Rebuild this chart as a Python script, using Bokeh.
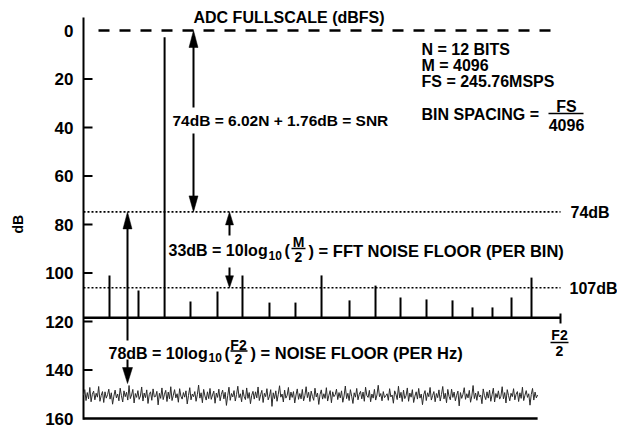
from bokeh.plotting import figure
from bokeh.models import Range1d, FixedTicker, Label
from bokeh.embed import file_html
from bokeh.resources import INLINE
import numpy as np

# ---------------- data ----------------
fullscale_db = 0.0          # ADC full scale
snr_line_db = 74.8          # "74dB" dotted line
bin_line_db = 106.1         # "107dB" dotted line
spur_base_db = 118.5        # spectrum baseline
nyquist = 100.0             # F2/2 in % of Nyquist
signal_freq = 17.0
signal_db = 2.8
spur_freq = [5.45, 11.53, 22.43, 28.09, 33.33, 38.99, 44.44, 49.90, 55.77,
             61.22, 66.46, 71.91, 77.36, 81.55, 85.74, 89.73, 93.92]
spur_db = [101.0, 107.2, 111.8, 107.6, 101.0, 112.2, 112.2, 101.0, 111.3,
           105.2, 110.1, 110.9, 111.3, 114.2, 114.2, 110.1, 101.9]
noise_span = 95.2
noise_db = [
    150.4, 148.1, 152.6, 149.3, 151.9, 147.2, 153.1, 150.0, 148.7, 152.3, 149.6, 151.2, 146.8, 152.9, 150.5, 148.9, 153.4, 149.0, 151.6, 150.2,
    147.9, 152.0, 149.4, 154.1, 150.8, 148.3, 151.5, 149.9, 152.7, 147.5, 150.6, 153.2, 148.6, 151.0, 149.2, 152.4, 146.4, 151.8, 150.3, 148.0,
    153.6, 149.7, 151.3, 148.5, 152.1, 150.7, 147.0, 152.8, 149.5, 151.4, 148.2, 153.8, 150.1, 149.0, 152.5, 147.8, 151.1, 150.9, 148.8, 154.4,
    149.6, 151.7, 147.4, 152.2, 150.0, 148.4, 153.0, 149.1, 151.9, 146.9, 152.6, 150.4, 148.1, 151.5, 149.8, 153.3, 147.7, 150.8, 152.0, 149.3,
    151.2, 148.6, 154.0, 150.5, 147.3, 152.3, 149.9, 151.0, 148.9, 152.9, 150.2, 146.2, 151.6, 149.4, 153.5, 148.0, 150.7, 152.4, 149.0, 151.8,
    147.6, 152.1, 150.3, 148.7, 153.7, 149.5, 151.3, 147.9, 152.7, 150.0, 148.3, 151.9, 149.2, 154.6, 150.6, 147.1, 152.5, 149.7, 151.1, 148.5,
    152.8, 150.1, 146.7, 151.4, 149.8, 153.1, 148.2, 150.9, 152.2, 147.4, 151.7, 149.3, 153.9, 150.4, 148.8, 152.0, 149.0, 151.5, 147.0, 152.6,
    150.2, 148.4, 153.4, 149.6, 151.0, 147.7, 152.3, 150.8, 148.1, 155.0, 149.4, 151.8, 148.6, 152.9, 150.0, 146.5, 151.2, 149.9, 153.2, 148.3,
    151.6, 150.5, 147.2, 152.4, 149.1, 151.3, 148.9, 153.6, 150.3, 147.8, 152.1, 149.7, 151.9, 148.0, 152.7, 150.6, 146.9, 151.4, 149.2, 153.0,
    148.7, 150.9, 152.5, 147.5, 151.1, 149.5, 154.2, 150.1, 148.2, 152.0, 149.8, 151.7, 147.3, 152.8, 150.4, 148.5, 153.5, 149.0, 151.0, 150.2,
    147.9, 152.2, 149.3, 151.5, 148.6, 153.3, 150.7, 146.6, 151.8, 149.6, 152.6, 148.1, 150.8, 153.8, 149.4, 151.2, 147.6, 152.3, 150.0, 148.8,
    151.9, 149.1, 152.9, 147.1, 150.5, 151.3, 148.4, 153.1, 149.9, 151.6, 148.0, 152.4, 150.3, 146.3, 151.0, 149.7, 152.7, 148.9, 151.4, 150.6,
    149.8, 152.5, 147.7, 151.1, 150.3, 153.7, 148.6, 150.0, 152.2, 146.7, 151.5, 149.2, 153.0, 148.3, 151.8, 150.6, 147.4, 152.9, 149.5, 151.2,
    148.1, 153.4, 150.8, 149.0, 152.0, 147.6, 151.6, 149.9, 154.3, 150.2, 148.5, 152.6, 149.4, 151.0, 147.2, 152.4, 150.5, 148.9, 153.1, 149.7,
    151.4, 148.2, 152.8, 150.1, 146.8, 151.9, 149.6, 153.5, 148.0, 150.9, 152.3, 147.9, 151.3, 149.1, 152.7, 150.4, 148.7, 154.8, 149.3, 151.7,
    150.0, 147.3, 152.1, 149.8, 151.5, 148.4, 153.3, 150.7, 146.4, 151.8, 149.5, 152.5, 148.8, 151.1, 150.3, 153.9, 147.8, 150.6, 152.2, 149.0,
    151.6, 148.3, 152.9, 150.2, 147.5, 153.2, 149.7, 151.4, 148.6, 152.0, 150.8, 146.9, 151.9, 149.3, 153.6, 148.1, 150.5, 152.7, 149.6, 151.0,
    147.7, 152.3, 150.0, 148.9, 153.0, 149.4, 151.7, 147.1, 152.6, 150.4, 148.5, 151.3, 149.8, 154.5, 150.1, 147.6, 152.4, 149.1, 151.5, 150.3,
]
y_ticks = [0, 20, 40, 60, 80, 100, 120, 140, 160]
y_bottom = 160

# ---------------- layout helpers (page pixels -> data) ----------------
PX_X = 4.77     # px per % of Nyquist
PX_Y = 2.425    # px per dB
def X(px):
    return (px - 83) / PX_X
def Y(py):
    return (py - 30) / PX_Y

FONT = "Liberation Sans"
W, H = 617, 428
FRAME_LEFT = 81

p = figure(width=W, height=H,
           x_range=Range1d(X(FRAME_LEFT), X(W)), y_range=Range1d(Y(H), Y(0)),
           output_backend="svg", toolbar_location=None, x_axis_location=None,
           min_border_left=FRAME_LEFT, min_border_right=0, min_border_top=0, min_border_bottom=0)
p.grid.visible = False
p.outline_line_color = None
p.background_fill_color = "white"

ax = p.yaxis[0]
ax.ticker = FixedTicker(ticks=y_ticks)
ax.axis_line_color = None
ax.major_tick_line_color = None
ax.minor_tick_line_color = None
ax.major_tick_in = 0
ax.major_tick_out = 0
ax.major_label_standoff = 8
ax.major_label_text_font = FONT
ax.major_label_text_font_style = "bold"
ax.major_label_text_font_size = "17px"
ax.major_label_text_color = "black"
ax.axis_label = "dB" + "\u00a0" * 5
ax.axis_label_text_font = FONT
ax.axis_label_text_font_style = "bold"
ax.axis_label_text_font_size = "14px"
ax.axis_label_text_color = "black"
ax.axis_label_standoff = 16

# axis line, ticks, bottom line
p.segment(x0=[0], y0=[Y(17)], x1=[0], y1=[y_bottom + 0.5], line_width=2, color="black")
tk = [t for t in y_ticks if 0 < t < y_bottom]
p.segment(x0=[0] * len(tk), y0=tk, x1=[X(92)] * len(tk), y1=tk, line_width=2, color="black")
p.segment(x0=[0], y0=[y_bottom], x1=[noise_span], y1=[y_bottom], line_width=2.5, color="black")

# noise floor
noise_x = np.linspace(0, noise_span, len(noise_db))
p.line(noise_x, noise_db, line_width=1, color="#2a2a2a")

# reference lines
p.segment(x0=[X(98)], y0=[fullscale_db], x1=[X(550)], y1=[fullscale_db],
          line_width=2.5, line_dash="11 10", color="black")
p.segment(x0=[0, 0], y0=[snr_line_db, bin_line_db], x1=[nyquist, nyquist], y1=[snr_line_db, bin_line_db],
          line_width=1.6, line_dash="2 2", color="black")

# baseline and spurs
p.segment(x0=[0], y0=[spur_base_db], x1=[nyquist], y1=[spur_base_db], line_width=2.5, color="black")
p.segment(x0=[nyquist], y0=[Y(313)], x1=[nyquist], y1=[Y(323)], line_width=2, color="black")
p.segment(x0=spur_freq, y0=[spur_base_db] * len(spur_freq), x1=spur_freq, y1=spur_db,
          line_width=2, color="black")
p.segment(x0=[signal_freq], y0=[spur_base_db], x1=[signal_freq], y1=[signal_db],
          line_width=2, color="black")

# arrows
hx, hy = [], []
def arrow(px, y_from, y_tip, L, Wd):
    x = X(px)
    d = 1 if y_tip > y_from else -1   # +1: pointing down
    base = y_tip - d * L / PX_Y
    p.segment(x0=[x], y0=[y_from], x1=[x], y1=[base + d * 1.0 / PX_Y], line_width=2, color="black")
    hx.append([x - Wd / 2 / PX_X, x + Wd / 2 / PX_X, x])
    hy.append([base, base, y_tip])

arrow(193, Y(107), fullscale_db, 17, 9)
arrow(193, Y(133), snr_line_db, 16, 9)
arrow(229, Y(235), snr_line_db, 13, 8)
arrow(229, Y(267), bin_line_db, 12, 8)
arrow(127, Y(340), snr_line_db, 17, 9)
arrow(127, Y(359), Y(383), 16, 10)
p.patches(hx, hy, color="black", line_width=0.5)

def lab(px, py, text, size="16px", align="left"):
    p.add_layout(Label(x=X(px), y=Y(py), text=text, text_font=FONT, text_font_style="bold",
                       text_font_size=size, text_align=align, text_baseline="middle",
                       text_color="black"))

def hbar(px0, px1, py):
    p.segment(x0=[X(px0)], y0=[Y(py)], x1=[X(px1)], y1=[Y(py)], line_width=1.5, color="black")

lab(193, 17, "ADC FULLSCALE (dBFS)")
lab(172, 120, "74dB = 6.02N + 1.76dB = SNR", "15.5px")
lab(421, 48.5, "N = 12 BITS")
lab(421, 65, "M = 4096")
lab(421, 81, "FS = 245.76MSPS")
lab(421, 113.5, "BIN SPACING =")
lab(566, 105.5, "FS", align="center")
hbar(548, 583, 113)
lab(566, 124, "4096", align="center")
lab(570, 212, "74dB")
lab(569, 287.5, "107dB")

# 33dB line
lab(168, 250, "33dB = 10log")
lab(268, 254.5, "10", "12px")
lab(284, 250, "(")
lab(298, 241.5, "M", "14px", "center")
hbar(291, 305, 248)
lab(298, 256, "2", "14px", "center")
lab(308, 250, ") = FFT NOISE FLOOR (PER BIN)", "16.5px")

# 78dB line
lab(108, 352.5, "78dB = 10log")
lab(208, 357, "10", "12px")
lab(224, 352.5, "(")
lab(238, 344, "F2", "14px", "center")
hbar(230, 247, 350.5)
lab(238, 358, "2", "14px", "center")
lab(250, 352.5, ") = NOISE FLOOR (PER Hz)", "16.5px")

# F2/2 at the end of the axis
lab(559, 334, "F2", "14px", "center")
hbar(550, 568, 342)
lab(559, 350.5, "2", "14px", "center")

open("out.html", "w").write(file_html(p, INLINE))
